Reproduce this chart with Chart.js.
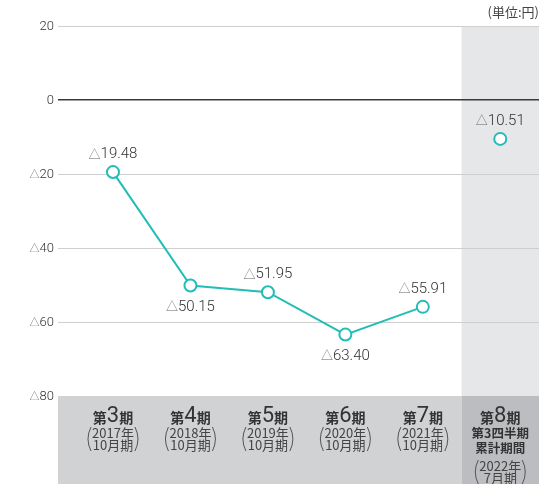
<!DOCTYPE html>
<html>
<head>
<meta charset="utf-8">
<script src="https://cdn.jsdelivr.net/npm/chart.js@4.4.0/dist/chart.umd.min.js"></script>
<style>
  html, body { margin: 0; padding: 0; background: #fff; }
  #wrap { width: 547px; height: 484px; position: relative; }
</style>
</head>
<body>
<div id="wrap"><canvas id="chart"></canvas></div>
<script>
// Data (unit: yen, negative = △)
const periods = ['3', '4', '5', '6', '7', '8'];
const yearLabels = ['2017年', '2018年', '2019年', '2020年', '2021年', '2022年'];
const monthLabels = ['10月期', '10月期', '10月期', '10月期', '10月期', '7月期'];
const lastExtraLines = ['第3四半期', '累計期間'];
const values = [-19.48, -50.15, -51.95, -63.40, -55.91, -10.51];
const valueLabels = ['19.48', '50.15', '51.95', '63.40', '55.91', '10.51'];
const labelAbove = [true, false, true, false, true, true];
const yTicks = [20, 0, -20, -40, -60, -80];

const TEAL = '#22bdb6';
const TEXT = '#333333';
const NUM_FONT = 'Roboto, "Noto Sans", sans-serif';
const JP_FONT = '"Noto Sans CJK JP", "Noto Sans", sans-serif';

// draws "△" (grey) followed by the number
function drawDeltaText(ctx, num, x, y, size, align) {
    ctx.save();
    ctx.textBaseline = 'middle';
    const triFont = '300 ' + Math.round(size * 0.8) + 'px ' + JP_FONT;
    ctx.font = triFont;
    const triW = ctx.measureText('△').width;
    ctx.font = '300 ' + size + 'px ' + NUM_FONT;
    const numW = ctx.measureText(num).width;
    const start = align === 'right' ? x - triW - numW : x - (triW + numW) / 2;
    ctx.textAlign = 'left';
    ctx.font = triFont;
    ctx.fillStyle = '#666';
    ctx.fillText('△', start, y);
    ctx.font = '300 ' + size + 'px ' + NUM_FONT;
    ctx.fillStyle = TEXT;
    ctx.fillText(num, start + triW, y + 0.5);
    ctx.restore();
}

function drawParens(ctx, cx, half, top, bottom) {
    ctx.save();
    ctx.strokeStyle = '#555';
    ctx.lineWidth = 1;
    const mid = (top + bottom) / 2;
    ctx.beginPath();
    ctx.moveTo(cx - half + 3, top);
    ctx.quadraticCurveTo(cx - half - 3, mid, cx - half + 3, bottom);
    ctx.moveTo(cx + half - 3, top);
    ctx.quadraticCurveTo(cx + half + 3, mid, cx + half - 3, bottom);
    ctx.stroke();
    ctx.restore();
}

const bandsPlugin = {
    id: 'bands',
    beforeDraw(chart) {
        const { ctx, chartArea, scales } = chart;
        const x = scales.x, y = scales.y;
        const colL = x.getPixelForValue(4.5);
        const colR = x.getPixelForValue(5.5);
        const top = y.getPixelForValue(20);
        const bottom = y.getPixelForValue(-80);
        ctx.save();
        ctx.fillStyle = '#e6e7e8';
        ctx.fillRect(colL, top, colR - colL, bottom - top);
        ctx.fillStyle = '#d1d2d4';
        ctx.fillRect(chartArea.left, bottom, colL - chartArea.left, chart.height - bottom);
        ctx.fillStyle = '#bcbdc0';
        ctx.fillRect(colL, bottom, colR - colL, chart.height - bottom);
        ctx.restore();
    },
    afterDraw(chart) {
        const { ctx, scales } = chart;
        const x = scales.x, y = scales.y;
        ctx.save();

        // y tick labels
        y.ticks.forEach(t => {
            const py = y.getPixelForValue(t.value);
            if (t.value < 0) {
                drawDeltaText(ctx, String(-t.value), 54, py, 13, 'right');
            } else {
                ctx.font = '300 13px ' + NUM_FONT;
                ctx.fillStyle = TEXT;
                ctx.textAlign = 'right';
                ctx.textBaseline = 'middle';
                ctx.fillText(String(t.value), 54, py + 0.5);
            }
        });

        // unit
        ctx.font = '13px ' + JP_FONT;
        ctx.fillStyle = '#444';
        ctx.textAlign = 'right';
        ctx.textBaseline = 'middle';
        ctx.fillText('(単位:円)', 539, 12);

        // point value labels
        const meta = chart.getDatasetMeta(0);
        meta.data.forEach((pt, i) => {
            const ly = labelAbove[i] ? pt.y - 18 : pt.y + 21;
            drawDeltaText(ctx, valueLabels[i], pt.x, ly, 15, 'center');
        });

        // category labels
        periods.forEach((p, i) => {
            const cx = x.getPixelForValue(i);
            const hy = 416;
            ctx.textBaseline = 'middle';
            ctx.textAlign = 'left';
            ctx.font = 'bold 14px ' + JP_FONT;
            const w1 = ctx.measureText('第').width;
            const w3 = ctx.measureText('期').width;
            ctx.font = '400 22px ' + NUM_FONT;
            const w2 = ctx.measureText(p).width;
            const sx = cx - (w1 + w2 + w3) / 2;
            ctx.fillStyle = TEXT;
            ctx.font = 'bold 14px ' + JP_FONT;
            ctx.fillText('第', sx, hy + 2);
            ctx.font = '400 22px ' + NUM_FONT;
            ctx.fillText(p, sx + w1, hy);
            ctx.font = 'bold 14px ' + JP_FONT;
            ctx.fillText('期', sx + w1 + w2, hy + 2);

            ctx.textAlign = 'center';
            let ty = 433;
            if (i === periods.length - 1) {
                ctx.font = 'bold 12.5px ' + JP_FONT;
                lastExtraLines.forEach((t, k) => {
                    ctx.fillText(t, cx, 433 + k * 15);
                });
                ty = 466;
            }
            ctx.font = '13px ' + JP_FONT;
            ctx.fillStyle = '#444';
            ctx.fillText(yearLabels[i], cx, ty);
            ctx.fillText(monthLabels[i], cx, ty + 12.5);
            drawParens(ctx, cx, 25, ty - 6, ty + 18);
        });
        ctx.restore();
    }
};

const ctx = document.getElementById('chart').getContext('2d');
new Chart(ctx, {
    type: 'line',
    data: {
        datasets: [{
            data: values.map((v, i) => ({ x: i, y: v })),
            borderColor: TEAL,
            borderWidth: 2,
            pointRadius: 6,
            pointBorderWidth: 2,
            pointBackgroundColor: '#fff',
            pointBorderColor: TEAL,
            tension: 0,
            // the last point (quarterly cumulative) is not joined to the line
            segment: {
                borderColor: c => c.p1DataIndex === values.length - 1 ? 'transparent' : TEAL
            }
        }]
    },
    options: {
        responsive: true,
        maintainAspectRatio: false,
        animation: false,
        layout: { padding: { top: 26, bottom: 88, right: 7, left: 0 } },
        plugins: { legend: { display: false }, tooltip: { enabled: false } },
        scales: {
            x: {
                type: 'linear',
                min: -0.71,
                max: 5.5,
                display: false
            },
            y: {
                min: -80,
                max: 20,
                afterBuildTicks(scale) {
                    scale.ticks = yTicks.map(v => ({ value: v }));
                },
                afterFit(scale) { scale.width = 58; },
                border: { display: false },
                grid: {
                    drawTicks: false,
                    lineWidth: c => c.tick && c.tick.value === 0 ? 1.5 : 1,
                    color: c => {
                        if (!c.tick) return 'transparent';
                        if (c.tick.value === 0) return '#3a3a3a';
                        if (c.tick.value === -80) return 'transparent';
                        return '#cfcfcf';
                    }
                },
                ticks: { display: false }
            }
        }
    },
    plugins: [bandsPlugin]
});
</script>
</body>
</html>
